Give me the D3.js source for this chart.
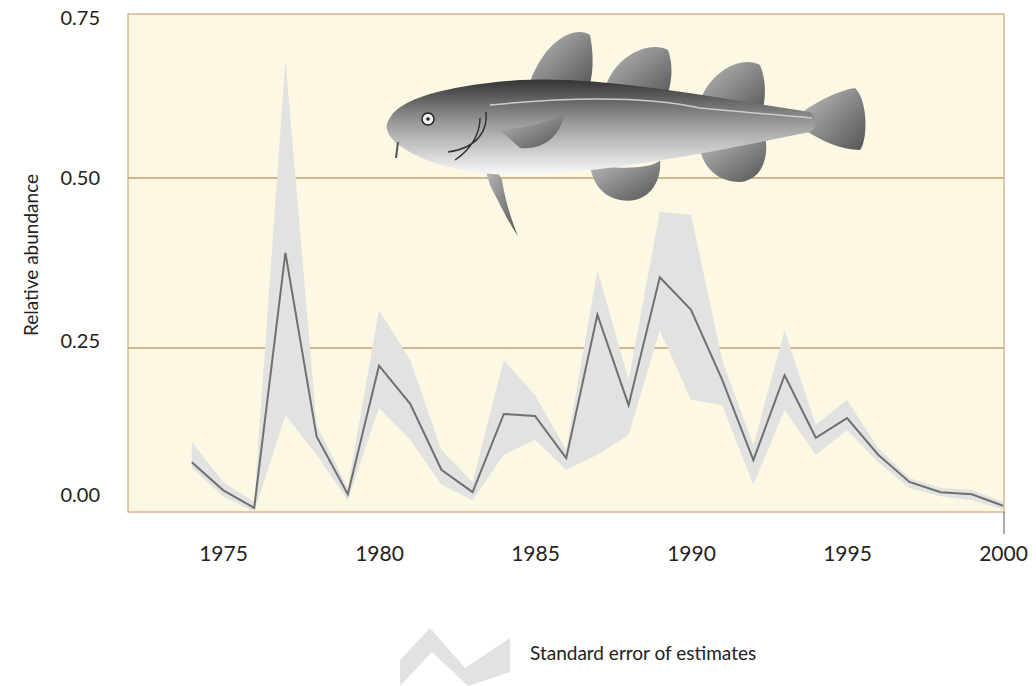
<!DOCTYPE html>
<html><head><meta charset="utf-8">
<script src="https://cdn.jsdelivr.net/npm/d3@7/dist/d3.min.js"></script>
<style>body{margin:0;background:#fff;font-family:Lato,"Open Sans",sans-serif}</style>
</head><body><svg id="c" width="1036" height="686"></svg>
<script>
const years = d3.range(1974, 2001);
const abundance = [0.082,0.041,0.015,0.39,0.12,0.035,0.224,0.168,0.071,0.038,0.153,0.15,0.088,0.299,0.166,0.354,0.306,0.203,0.085,0.21,0.118,0.147,0.093,0.053,0.038,0.035,0.018];
const upper = [0.112,0.053,0.024,0.674,0.137,0.044,0.306,0.232,0.1,0.053,0.232,0.181,0.1,0.365,0.203,0.45,0.446,0.232,0.107,0.276,0.137,0.174,0.103,0.059,0.044,0.041,0.024];
const lower = [0.074,0.032,0.009,0.151,0.093,0.026,0.162,0.115,0.049,0.026,0.093,0.115,0.071,0.093,0.122,0.276,0.174,0.166,0.049,0.159,0.093,0.129,0.082,0.044,0.032,0.026,0.012];
const yTicks = [0, 0.25, 0.5, 0.75];
const yTickLabels = ["0.00","0.25","0.50","0.75"];
const xTicks = [1975,1980,1985,1990,1995,2000];

const svg = d3.select("#c");
const L=128, R=1004, T=14, B=512;
const x = d3.scaleLinear().domain([1975,2000]).range([223,1003]);
const y = d3.scaleLinear().domain([0,0.5]).range([518,178]);
// label placement follows the printed (slightly non-linear) layout
const yLab = d3.scaleLinear().domain([0,0.25,0.5,0.75]).range([497,343,180,20]);

svg.append("rect").attr("x",L).attr("y",T).attr("width",R-L).attr("height",B-T)
  .attr("fill","#fdf8e3").attr("stroke","#c9a979").attr("stroke-width",1.2);
[0.25,0.5].forEach(v=>svg.append("line").attr("x1",L).attr("x2",R).attr("y1",y(v)).attr("y2",y(v))
  .attr("stroke","#c2a070").attr("stroke-width",1.5));

// fish (decorative)
const defs = svg.append("defs");
const gb = defs.append("linearGradient").attr("id","gb").attr("x1",0).attr("y1",0).attr("x2",0).attr("y2",1);
gb.append("stop").attr("offset","0").attr("stop-color","#333");
gb.append("stop").attr("offset","0.45").attr("stop-color","#999");
gb.append("stop").attr("offset","1").attr("stop-color","#fafafa");
const gf = defs.append("linearGradient").attr("id","gf").attr("x1",0).attr("y1",0).attr("x2",1).attr("y2",1);
gf.append("stop").attr("offset","0").attr("stop-color","#bbb");
gf.append("stop").attr("offset","1").attr("stop-color","#555");
const fish = svg.append("g");
const fins = ["M530,82 C545,40 575,25 590,35 C595,60 592,80 588,90 Z",
  "M605,88 C615,55 650,40 668,50 C675,70 670,90 665,100 Z",
  "M700,100 C712,70 742,55 760,65 C768,85 765,105 760,118 Z",
  "M590,165 C620,170 655,168 660,160 C662,180 650,205 620,200 C600,196 592,180 590,165 Z",
  "M700,150 C730,150 760,140 765,135 C770,160 760,180 740,182 C720,182 705,170 700,150 Z",
  "M805,110 C820,100 840,90 855,88 C868,100 868,140 860,150 C840,150 820,140 805,130 Z",
  "M485,168 C492,170 498,170 502,180 C505,200 512,222 518,236 C510,225 500,205 490,185 Z"];
fins.forEach(d=>fish.append("path").attr("d",d).attr("fill","url(#gf)"));
fish.append("path").attr("d","M390,118 C400,98 450,85 520,80 C600,76 700,95 810,112 C818,118 818,128 810,132 C720,150 620,172 520,175 C460,175 420,162 395,142 C385,132 385,124 390,118 Z")
  .attr("fill","url(#gb)");
fish.append("path").attr("d","M490,105 C560,98 640,95 700,108 C740,112 780,115 812,118").attr("fill","none").attr("stroke","#ccc").attr("stroke-width",1.5);
fish.append("path").attr("d","M500,130 C530,128 560,118 565,112 C560,140 540,150 520,148 Z").attr("fill","url(#gf)");
fish.append("path").attr("d","M486,112 C488,130 478,148 448,152 M480,118 C480,135 470,150 455,160").attr("fill","none").attr("stroke","#333").attr("stroke-width",1.5);
fish.append("circle").attr("cx",428).attr("cy",119).attr("r",6).attr("fill","#eee").attr("stroke","#222").attr("stroke-width",1.5);
fish.append("circle").attr("cx",428).attr("cy",119).attr("r",1.8).attr("fill","#222");
fish.append("path").attr("d","M398,142 L396,158").attr("stroke","#555").attr("stroke-width",2);

const idx = d3.range(years.length);
svg.append("path").datum(idx).attr("fill","#e2e2e0")
  .attr("d", d3.area().x(i=>x(years[i])).y0(i=>y(lower[i])).y1(i=>y(upper[i])));
svg.append("path").datum(idx).attr("fill","none").attr("stroke","#707070").attr("stroke-width",2)
  .attr("d", d3.line().x(i=>x(years[i])).y(i=>y(abundance[i])));

yTicks.forEach((v,i)=>svg.append("text").attr("x",100).attr("y",yLab(v)).attr("text-anchor","end")
  .attr("dominant-baseline","middle").attr("font-size",20).attr("fill","#222").text(yTickLabels[i]));
svg.append("g").attr("transform",`translate(0,${B})`)
  .call(d3.axisBottom(x).tickValues(xTicks).tickFormat(d3.format("d")).tickSize(0).tickPadding(34))
  .call(g=>g.select(".domain").remove())
  .call(g=>g.selectAll("text").attr("font-size",21).attr("fill","#222").attr("font-family","Lato,sans-serif"));
svg.append("line").attr("x1",R).attr("x2",R).attr("y1",B).attr("y2",B+22).attr("stroke","#555");
svg.append("text").attr("transform","translate(38,255) rotate(-90)").attr("text-anchor","middle")
  .attr("font-size",19).attr("fill","#222").text("Relative abundance");

// legend
svg.append("path").attr("d","M400,660 L430,628 L465,668 L510,638 L510,672 L468,686 L432,652 L400,686 Z").attr("fill","#e2e2e0");
svg.append("text").attr("x",530).attr("y",655).attr("dominant-baseline","middle").attr("font-size",19)
  .attr("fill","#222").text("Standard error of estimates");
</script></body></html>
